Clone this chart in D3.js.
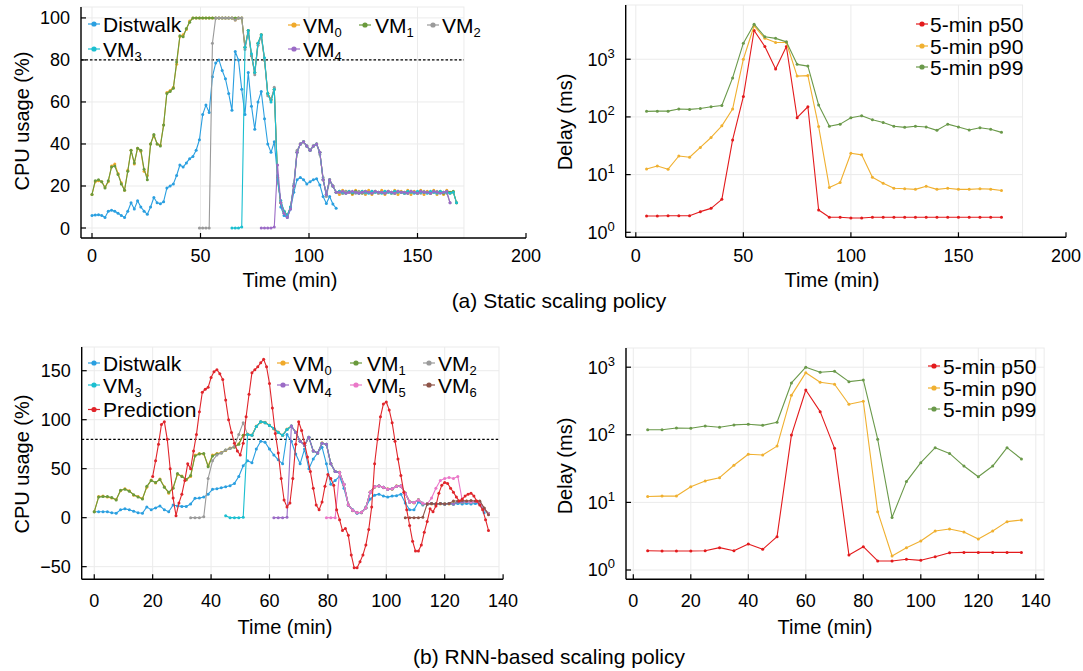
<!DOCTYPE html>
<html><head><meta charset="utf-8">
<script src="https://cdn.jsdelivr.net/npm/d3@7"></script>
<style>
body{margin:0;background:#fff}
svg{display:block}
text{font-family:"Liberation Sans",Arial,Helvetica,sans-serif;fill:#000}
</style>
</head><body>
<svg id="c" width="1083" height="671"></svg>
<script>
// ---------------- DATA ----------------
// (a) Static scaling policy - CPU usage, sampled every 1.5 min
const aStep = 1.5;
const aDistwalkStart = 0;
const aDistwalk = [6,6.2,6.3,6,5,8,8.5,8,7,6,
 5,8,12,9,13,10,8,6.5,10,14.5,
 12,11.5,12.5,19,20,21,25,30,29,31,
 33,34,37,42,54,58.5,55,72,78.5,80,
 75,71,64,56,84,80,66,54,74,58,
 47,60,65,52,40,36,41,25,10,6,
 5,9,17,23,24,23,21,22,23,23.5,
 20.5,15,11.7,15,11.4,9.4];
const aVM0Start = 0;
const aVM0 = [16,22,22.5,22,19.5,22,29.5,30.5,26,21.5,
 18,27.5,37,30.5,38,36.5,27,25,40,44,
 40,39.5,49,64.5,65.5,67,78,91,92,94.5,
 98.5,100,100,100,100,100,100,100,100,100,
 100,100,100,100,99,100,100,86,94,82,
 74,88,92,80,64,61,66,24,12,8,
 6,10,20,36,40,41,39,37,39,40,
 36,23,16,23,20,17,16,18,16.5,17.5,
 16,18,16.5,17.5,16,18,16,17.5,16.5,18,
 16,17.5,16.5,18,16,17.5,16.5,18,16,17.5,
 16.5,18,16,17.5,16.5,18,16,17.5,16,18,
 16.5,17,12];
const aVM1Start = 0;
const aVM1 = [16,22.5,23,22,19,22.5,29,29.5,25.5,21,
 18,27,37,31,38,37,28,23,40,44.5,
 40,39,49,64,65,66.5,79,91.5,91,95,
 98,100,100,100,100,100,100,100,100,100,
 100,100,100,100,100,100,100,86,94,82,
 74,88,92,80,64,61,66,24,12,8,
 6,10,20,36,40,41,39,37,39,40,
 36,23,16,23,20,17,17.5,16.5,17.5,17,
 16.5,17.5,17,16.5,17.5,17,16.5,17.5,17,17,
 16.5,17.5,17,16.5,17.5,17,17,16.5,17.5,17,
 16.5,17.5,17,17,16.5,17.5,17,17,16.5,17.5,
 17,17.5,12];
const aVM2Start = 49.5;
const aVM2 = [0,0,0,0,88,100,100,100,100,100,100,99,100,100,
 85,93,82,73,87,91,80,63,61,67,22,13,7,6,10,21,37,40,41,39,37,39,40,35,24,15,22,20,17,
 17,16.5,17.5,17,17,16.5,17.5,17,16.5,17,17.5,17,16.5,17,17.5,17,17,16.5,
 17.5,17,16.5,17,17.5,17,17,16.5,17.5,17,16.5,17,17.5,17,17,16.5,12];
const aVM3Start = 64.5;
const aVM3 = [0,0,0,0.5,
 86,94,83,74,88,92,81,64,60,66,23,13,8,6,10,20,36,40,41,39,37,39,40,36,23,16,23,20,17,
 17.5,17,16.5,17.5,17,17,16.5,17.5,17,16.5,17.5,17,17,16.5,17.5,17,16.5,17.5,
 17,17,16.5,17.5,17,16.5,17.5,17,17,16.5,17.5,17,16.5,17.5,17,17,16.5,17,12];
const aVM4Start = 78;
const aVM4 = [0,0,0,0,0.5,
 30,12,7,5,9,20,36,40,41,39,37,39,40,36,23,16,23,20,17,
 17,17.5,16.5,17,17.5,17,16.5,17,17.5,17,16.5,17.5,17,17,16.5,17.5,17,16.5,
 17.5,17,17,16.5,17.5,17,16.5,17.5,17,17,16.5,17.5,17,16.5,17,17.5,12];

// (a) Delay percentiles, every 5 min starting at 5
const aDelayStep = 5;
const aDelayStart = 5;
const aP50 = [1.92,1.92,1.94,1.94,1.94,2.28,2.6,3.73,40,225,3150,1660,680,1660,97,150,
 2.44,1.82,1.82,1.77,1.77,1.82,1.82,1.82,1.82,1.82,1.82,1.82,1.82,1.82,1.82,1.82,1.82,1.82];
const aP90 = [12.5,14.1,12.4,21,20,29.6,44,70,137,1000,3800,2300,1950,1950,510,520,
 68,6.0,7.3,23.4,22,9,7.1,5.8,5.7,5.55,6.3,5.55,5.8,5.55,5.55,5.7,5.6,5.3];
const aP99 = [125,126,126,137,135,140,150,158,475,1900,4050,2450,2300,2000,815,760,
 161,69,75,97,105,89,80,69,66,69,67,58.5,75,67,59.5,65,61,54];

// (b) RNN-based scaling policy - CPU usage, sampled every 1.5 min
const bStep = 1.5;
const bDistwalkStart = 0;
const bDistwalk = [6,6,6,6,5,4.5,8,9,8,6.5,
 5,4.5,11,8,10,12,8,6,13,12,
 11.5,11.5,14,19.7,20,21,24,29,29.5,30.5,
 31.6,32.6,35,42,53,58,56,70,78,77,
 70,64,59,55,85,78,65,55,70,50,
 60,66,72,55,34,38,42,30,13,8,
 4.5,5,11,19,23,24,22,21,22,22.5,
 24,15,8,8,16,13,14,14.5,14,14.5,
 14,14.5,14,14.5,14,14.5,14,14.5,14,5];
const bVM0Start = 0;
const bVM0 = [6,21.5,22,21,20,18.5,27.5,29.5,27.5,23,
 21.5,19.5,31,38.5,35.5,39.5,31.5,25,30.5,44,
 42.5,38.5,42,64,65.5,65,53,64,65.5,66.5,
 68.5,71,72.5,75.5,84,85.5,84.5,93.5,97.5,97.5,
 94.5,90.5,87.5,84,90.5,93,87.5,78.5,74,81.5,
 68.5,66,76.5,74.5,55.5,47,46.5,33.5,13.5,7,
 5.5,5,10.5,26.5,31,32.5,30.5,29.5,29,32.5,
 32,25.5,16.5,15,18.5,14,14.5,14,14.5,14,
 14.5,14,14.5,16.5,15.5,17,16,16.5,16.5,9.5,4.5];
const bVM1Start = 0;
const bVM1 = [6,21,21.5,21.5,20.5,18,28,29,27,23.5,
 21,19,32,38,36,39,31,26,30,45,
 42,39,43,63,65,65.6,52,63,65,66,
 69,70.5,72,75,84,85,84,93,98,97,
 94,91,87,84,90,93.5,87,78,74,82,
 68,66,76,75,55,47,46,34,13,7.5,
 5,5.5,10,26,31.5,32.3,31,29,29.5,32,
 32.3,25,16,15.5,18,14.6,14,14.5,14,14.5,
 14,14.5,14,16,16,16.5,16,16.5,16,9,4];
const bVM2Start = 33;
const bVM2 = [0,0,0,1,40,58,64,66,69,70.5,73,85,97,85,
 84,93,98,97,94,91,87,84,90,93.5,
 87,78,74,82,68,66,76,75,55,47,
 46,34,13,7.5,5,5.5,10,26,31.5,32.3,
 31,29,29.5,32,32.3,25,16,15.5,18,14.6,
 14,14.5,14,14.5,14,14.5,14,16,16,16.5,
 16,16.5,16,9,4];
const bVM3Start = 45;
const bVM3 = [2,0,0,0,0.5,85,
 84,93,98,97,94,91,87,84,90,93.5,
 87,78,74,82,68,66,76,75,55,47,
 46,34,13,7.5,5,5.5,10,26,31.5,32.3,
 31,29,29.5,32,32.3,25,16,15.5,18,14.6,
 14,14.5,14,14.5,14,14.5,14,16,16,16.5,
 16,16.5,16,9,4];
const bVM4Start = 61.5;
const bVM4 = [0,0,0,0.5,93.5,
 87,78,74,82,68,66,76,75,55,47,
 46,34,13,7.5,5,5.5,10,26,31.5,32.3,
 31,29,29.5,32,32.3,25,16,15.5,18,14.6,
 14,14.5,14,14.5,14,14.5,14,16,16,16.5,
 16,16.5,16,9,4];
const bVM5Start = 79.5;
const bVM5 = [0,0,0,46,
 34,13,7.5,5,5.5,10,26,31.5,32.3,31,29,29.5,32,32.3,25,16,15.5,18,14.6,14,
 20,30,38,40,41,40,42,18,16.5,16,16.5,16,9,4];
const bVM6Start = 106.5;
const bVM6 = [0,0,0,0,0.5,14,14.5,14,14.5,14,14.5,17,17,17.5,17,17.5,17,17,10,3];
const bPredStart = 20;
const bPredStep = 1;
const bPrediction = [42,58,75,95,98,80,50,20,2,15,
 24,38,55,50,68,85,108,128,131,133,
 143,149,151,147,141,120,100,87,76,68,
 64,76,103,126,148,151,154,158,161.6,154,
 137,112,86,66,40,18,11,15,40,75,
 98,89,76,62,47,30,13,8,16,32,
 44,40,33,8,-2,-13,-11,-18,-38,-51,
 -51,-45,-38,-28,-12,11,55,80,103,116,
 118,110,97,78,60,43,26,8,-8,-24,
 -34,-34,-28,-15,-4,9,6,12,25,33,
 36,35,30,26,21,17,19,22,24,25,
 22,17,13,8,-2,-13];

// (b) Delay percentiles
const bDelayStep = 5;
const bDelayStart = 5;
const bP50 = [1.93,1.91,1.91,1.91,1.93,2.14,1.93,2.43,2.02,3.11,99,460,220,63,1.67,2.21,
 1.36,1.36,1.44,1.39,1.57,1.8,1.82,1.82,1.82,1.82,1.82];
const bP90 = [12.2,12.4,12.4,17,20.8,23.2,35.4,51.5,50.2,68,383,830,600,560,283,313,
 7.3,1.61,2.14,2.69,3.78,4.04,3.65,2.87,3.78,5.19,5.5];
const bP99 = [119,119,126,125,135,129,140,143,138,153,584,1000,840,870,611,648,
 86,6.0,20.3,38.7,64.5,53,34.5,24,34.5,64.5,43.9];

// tick values
const aCpuXTicks = [0,50,100,150,200];
const aCpuYTicks = [0,20,40,60,80,100];
const aDelayXTicks = [0,50,100,150,200];
const bCpuXTicks = [0,20,40,60,80,100,120,140];
const bCpuYTicks = [-50,0,50,100,150];
const bDelayXTicks = [0,20,40,60,80,100,120,140];
const delayYTicks = [1,10,100,1000];
const delayYExp = ["0","1","2","3"];
const threshold = 80;

// colours
const C = {
  distwalk:"#2a9fe0", vm0:"#f0a92a", vm1:"#6a9a3c", vm2:"#9a9a9a", vm3:"#1bbfd0",
  vm4:"#9b6bc6", vm5:"#ea78c8", vm6:"#8e5448", pred:"#e0242a",
  p50:"#e31a1c", p90:"#f0b030", p99:"#6a994a"
};

// ---------------- DRAW ----------------
const svg = d3.select("#c");

function mk(values, start, step){ return values.map((v,i)=>({t:start+i*step, v:v})); }

function panel(cfg){
  const x = d3.scaleLinear().domain(cfg.xDomain).range(cfg.xRange);
  const y = (cfg.log ? d3.scaleLog() : d3.scaleLinear()).domain(cfg.yDomain).range(cfg.yRange);
  const g = svg.append("g");
  const left = cfg.xRange[0], top = cfg.yRange[1], bottom = cfg.yRange[0];
  const gr = x(cfg.gridRight);
  // grid
  g.append("rect").attr("x",left).attr("y",top).attr("width",gr-left).attr("height",bottom-top)
    .attr("fill","none").attr("stroke","#ebebeb").attr("stroke-width",1);
  cfg.xTicks.forEach(t=>{ if (x(t) <= gr+0.5) g.append("line").attr("x1",x(t)).attr("x2",x(t)).attr("y1",top).attr("y2",bottom).attr("stroke","#ebebeb"); });
  cfg.yTicks.forEach(t=>{ g.append("line").attr("x1",left).attr("x2",gr).attr("y1",y(t)).attr("y2",y(t)).attr("stroke","#ebebeb"); });
  if (cfg.threshold!==undefined){
    g.append("line").attr("x1",left).attr("x2",gr).attr("y1",y(cfg.threshold)).attr("y2",y(cfg.threshold))
      .attr("stroke","#000").attr("stroke-width",1.2).attr("stroke-dasharray","2.5,2");
  }
  // series
  const line = d3.line().x(d=>x(d.t)).y(d=>y(d.v));
  cfg.series.forEach(s=>{
    g.append("path").datum(s.data).attr("d",line).attr("fill","none").attr("stroke",s.color).attr("stroke-width",s.lw||1.1).attr("stroke-linejoin","round");
    g.selectAll(null).data(s.data).enter().append("circle").attr("cx",d=>x(d.t)).attr("cy",d=>y(d.v)).attr("r",s.r||1.5).attr("fill",s.color);
  });
  // axes
  g.append("line").attr("x1",left).attr("x2",left).attr("y1",top).attr("y2",bottom).attr("stroke","#000").attr("stroke-width",1.4);
  g.append("line").attr("x1",left).attr("x2",x(cfg.axisEnd)).attr("y1",bottom).attr("y2",bottom).attr("stroke","#000").attr("stroke-width",1.4);
  cfg.xTicks.forEach(t=>{
    g.append("line").attr("x1",x(t)).attr("x2",x(t)).attr("y1",bottom).attr("y2",bottom-5).attr("stroke","#000").attr("stroke-width",1.2);
    g.append("text").attr("x",x(t)).attr("y",cfg.xLabelY).attr("text-anchor","middle").style("font-size","18px").text(t);
  });
  cfg.yTicks.forEach((t,i)=>{
    g.append("line").attr("x1",left).attr("x2",left+5).attr("y1",y(t)).attr("y2",y(t)).attr("stroke","#000").attr("stroke-width",1.2);
    const tx = g.append("text").attr("x",left-11).attr("y",y(t)+6.5).attr("text-anchor","end").style("font-size","18px");
    if (cfg.log){ tx.append("tspan").text("10"); tx.append("tspan").attr("dy",-8).style("font-size","13px").text(cfg.yExp[i]); }
    else tx.text(d3.format("")(t));
  });
  // titles
  g.append("text").attr("x",cfg.xTitle[0]).attr("y",cfg.xTitle[1]).attr("text-anchor","middle").style("font-size","20px").text("Time (min)");
  g.append("text").attr("transform",`translate(${cfg.yTitle[0]},${cfg.yTitle[1]}) rotate(-90)`).attr("text-anchor","middle")
    .attr("dy","0.35em").style("font-size","20px").text(cfg.yLabel);
  // legend
  cfg.legend.forEach(l=>{
    g.append("line").attr("x1",l.mx).attr("x2",l.mx+12).attr("y1",l.y).attr("y2",l.y).attr("stroke",l.color).attr("stroke-width",1.2);
    g.append("circle").attr("cx",l.mx+6).attr("cy",l.y).attr("r",2.6).attr("fill",l.color);
    const tx = g.append("text").attr("x",l.tx).attr("y",l.y+7.5).style("font-size","21px");
    tx.append("tspan").text(l.label);
    if (l.sub!==undefined) tx.append("tspan").attr("dy",4).style("font-size","13px").text(l.sub);
  });
}

// Panel (a) CPU
panel({
  xDomain:[-5.07,200], xRange:[81,526], yDomain:[-4.76,105.2], yRange:[238,7],
  gridRight:171.4, axisEnd:200, xTicks:aCpuXTicks, yTicks:aCpuYTicks, threshold:threshold,
  xLabelY:262, xTitle:[290,287], yTitle:[22,121], yLabel:"CPU usage (%)",
  series:[
    {color:C.distwalk, data:mk(aDistwalk,aDistwalkStart,aStep)},
    {color:C.vm0, data:mk(aVM0,aVM0Start,aStep)},
    {color:C.vm1, data:mk(aVM1,aVM1Start,aStep)},
    {color:C.vm2, data:mk(aVM2,aVM2Start,aStep)},
    {color:C.vm3, data:mk(aVM3,aVM3Start,aStep)},
    {color:C.vm4, data:mk(aVM4,aVM4Start,aStep)}
  ],
  legend:[
    {mx:88,tx:103,y:24,color:C.distwalk,label:"Distwalk"},
    {mx:288,tx:303,y:25,color:C.vm0,label:"VM",sub:"0"},
    {mx:359,tx:375,y:25,color:C.vm1,label:"VM",sub:"1"},
    {mx:427,tx:442,y:25,color:C.vm2,label:"VM",sub:"2"},
    {mx:88,tx:103,y:49,color:C.vm3,label:"VM",sub:"3"},
    {mx:288,tx:303,y:49,color:C.vm4,label:"VM",sub:"4"}
  ]
});

// Panel (a) Delay
panel({
  log:true, xDomain:[-4.7,200], xRange:[625.7,1066], yDomain:[Math.pow(10,-0.0867),Math.pow(10,3.94)], yRange:[237.3,5],
  gridRight:179.8, axisEnd:200, xTicks:aDelayXTicks, yTicks:delayYTicks, yExp:delayYExp,
  xLabelY:262, xTitle:[832,287], yTitle:[565,122], yLabel:"Delay (ms)",
  series:[
    {color:C.p50, data:mk(aP50,aDelayStart,aDelayStep)},
    {color:C.p90, data:mk(aP90,aDelayStart,aDelayStep)},
    {color:C.p99, data:mk(aP99,aDelayStart,aDelayStep)}
  ],
  legend:[
    {mx:916,tx:930,y:24,color:C.p50,label:"5-min p50"},
    {mx:916,tx:930,y:46,color:C.p90,label:"5-min p90"},
    {mx:916,tx:930,y:67,color:C.p99,label:"5-min p99"}
  ]
});

// Panel (b) CPU
panel({
  xDomain:[-4.3,140], xRange:[81.7,503.1], yDomain:[-62.9,174.2], yRange:[579.3,347],
  gridRight:138.6, axisEnd:140, xTicks:bCpuXTicks, yTicks:bCpuYTicks, threshold:threshold,
  xLabelY:607, xTitle:[285,634], yTitle:[22,464], yLabel:"CPU usage (%)",
  series:[
    {color:C.distwalk, data:mk(bDistwalk,bDistwalkStart,bStep)},
    {color:C.vm0, data:mk(bVM0,bVM0Start,bStep)},
    {color:C.vm1, data:mk(bVM1,bVM1Start,bStep)},
    {color:C.vm2, data:mk(bVM2,bVM2Start,bStep)},
    {color:C.vm3, data:mk(bVM3,bVM3Start,bStep)},
    {color:C.vm4, data:mk(bVM4,bVM4Start,bStep)},
    {color:C.vm5, data:mk(bVM5,bVM5Start,bStep)},
    {color:C.vm6, data:mk(bVM6,bVM6Start,bStep)},
    {color:C.pred, data:mk(bPrediction,bPredStart,bPredStep)}
  ],
  legend:[
    {mx:88,tx:103,y:363,color:C.distwalk,label:"Distwalk"},
    {mx:277,tx:293,y:363,color:C.vm0,label:"VM",sub:"0"},
    {mx:350,tx:367,y:363,color:C.vm1,label:"VM",sub:"1"},
    {mx:423,tx:438,y:363,color:C.vm2,label:"VM",sub:"2"},
    {mx:88,tx:103,y:385,color:C.vm3,label:"VM",sub:"3"},
    {mx:277,tx:293,y:385,color:C.vm4,label:"VM",sub:"4"},
    {mx:350,tx:367,y:385,color:C.vm5,label:"VM",sub:"5"},
    {mx:423,tx:438,y:385,color:C.vm6,label:"VM",sub:"6"},
    {mx:88,tx:103,y:409.5,color:C.pred,label:"Prediction"}
  ]
});

// Panel (b) Delay
panel({
  log:true, xDomain:[-2.54,140], xRange:[626,1035.8], yDomain:[Math.pow(10,-0.1376),Math.pow(10,3.284)], yRange:[579.3,348],
  gridRight:142.9, axisEnd:142.9, xTicks:bDelayXTicks, yTicks:delayYTicks, yExp:delayYExp,
  xLabelY:607, xTitle:[825,634], yTitle:[565,466], yLabel:"Delay (ms)",
  series:[
    {color:C.p50, data:mk(bP50,bDelayStart,bDelayStep)},
    {color:C.p90, data:mk(bP90,bDelayStart,bDelayStep)},
    {color:C.p99, data:mk(bP99,bDelayStart,bDelayStep)}
  ],
  legend:[
    {mx:928,tx:943,y:366,color:C.p50,label:"5-min p50"},
    {mx:928,tx:943,y:388,color:C.p90,label:"5-min p90"},
    {mx:928,tx:943,y:409,color:C.p99,label:"5-min p99"}
  ]
});

// captions
svg.append("text").attr("x",559).attr("y",308).attr("text-anchor","middle").style("font-size","21px").text("(a) Static scaling policy");
svg.append("text").attr("x",549).attr("y",664).attr("text-anchor","middle").style("font-size","21px").text("(b) RNN-based scaling policy");
</script>
</body></html>
